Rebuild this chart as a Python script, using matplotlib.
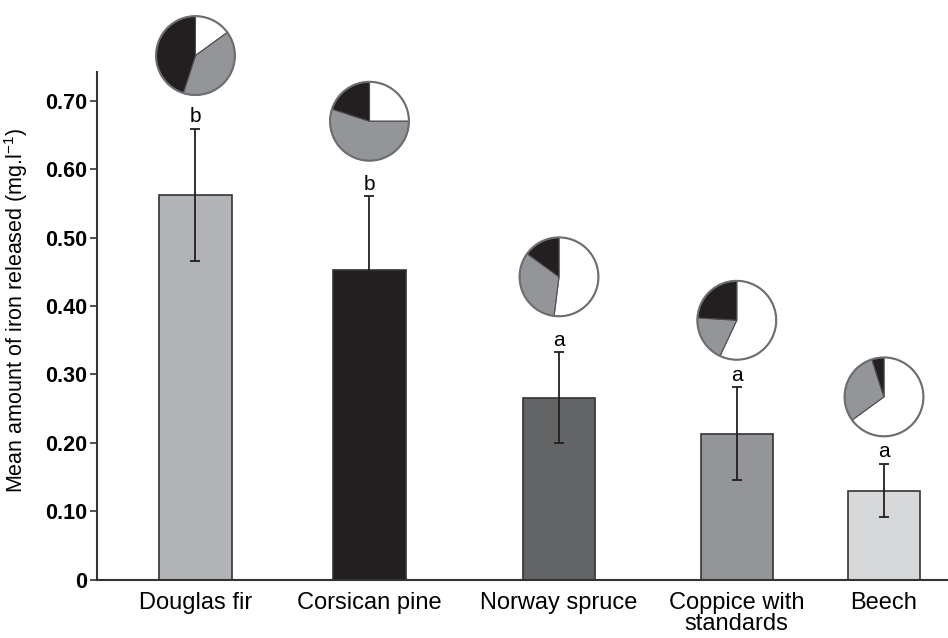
import matplotlib.pyplot as plt
from matplotlib.patches import Circle

# data
species = ['Douglas fir', 'Corsican pine', 'Norway spruce', 'Coppice with\nstandards', 'Beech']
iron_mean = [0.562, 0.452, 0.266, 0.213, 0.130]
iron_err = [0.097, 0.108, 0.066, 0.068, 0.039]
letters = ['b', 'b', 'a', 'a', 'a']
# pie shares: white, grey, black (percent)
pie_white = [15, 25, 52, 57, 65]
pie_grey = [40, 55, 33, 19, 30]
pie_black = [45, 20, 15, 24, 5]

# layout
x_pos = [1.157, 3.202, 5.429, 7.518, 9.248]
pie_y = [0.766, 0.670, 0.4425, 0.379, 0.267]
bar_colors = ['#b1b3b6', '#231f20', '#636466', '#939598', '#d7d8da']
pie_colors = ['white', '#939598', '#231f20']

narrow = ['Liberation Sans Narrow', 'Liberation Sans', 'DejaVu Sans']
plt.rcParams['font.family'] = ['Liberation Sans', 'DejaVu Sans']
plt.rcParams['mathtext.fontset'] = 'custom'
plt.rcParams['mathtext.rm'] = 'Liberation Sans'

W, H = 948, 638
fig = plt.figure(figsize=(W / 100, H / 100), dpi=100)
ax = fig.add_axes([97 / W, 1 - 579.5 / H, (W - 97) / W, (579.5 - 72) / H])

ax.bar(x_pos, iron_mean, width=0.85, color=bar_colors, edgecolor='#333333', linewidth=1.2, zorder=2)
ax.errorbar(x_pos, iron_mean, yerr=iron_err, fmt='none', ecolor='#231f20',
            elinewidth=1.3, capsize=3.5, capthick=1.3, zorder=3)

for x, m, e, l in zip(x_pos, iron_mean, iron_err, letters):
    ax.annotate(l, (x, m + e), xytext=(0, 2), textcoords='offset points',
                ha='center', va='bottom', fontsize=15, family=narrow)

ax.set_xlim(0, 10)
ax.set_ylim(0, 0.742)
ax.set_yticks([0, 0.1, 0.2, 0.3, 0.4, 0.5, 0.6, 0.7])
ax.set_yticklabels(['0', '0.10', '0.20', '0.30', '0.40', '0.50', '0.60', '0.70'],
                   family=narrow, fontweight='bold', fontsize=15.5)
ax.set_xticks(x_pos)
ax.set_xticklabels(species, fontsize=17, linespacing=0.95)
ax.tick_params(axis='x', length=0, pad=9)
ax.tick_params(axis='y', length=5, width=1.2, pad=2, color='#333333')
ax.set_ylabel(r'Mean amount of iron released (mg.l$^{\mathregular{-1}}$)',
              family=narrow, fontsize=15.5)
ax.yaxis.set_label_coords(-0.079, 0.531)

for s in ['top', 'right']:
    ax.spines[s].set_visible(False)
for s in ['left', 'bottom']:
    ax.spines[s].set_linewidth(1.5)
    ax.spines[s].set_color('#333333')

# small pies above the bars
r = 41
for x, py, w, g, b in zip(x_pos, pie_y, pie_white, pie_grey, pie_black):
    cx, cy = ax.transData.transform((x, py))
    pax = fig.add_axes([(cx - r) / W, (cy - r) / H, 2 * r / W, 2 * r / H])
    pax.pie([w, g, b], colors=pie_colors, startangle=90, counterclock=False,
            wedgeprops=dict(edgecolor='#4d4d4f', linewidth=0.8))
    pax.add_patch(Circle((0, 0), 1, fill=False, edgecolor='#6d6e71', linewidth=1.5))
    pax.set_xlim(-1.04, 1.04)
    pax.set_ylim(-1.04, 1.04)

fig.savefig('out.png', dpi=100)
